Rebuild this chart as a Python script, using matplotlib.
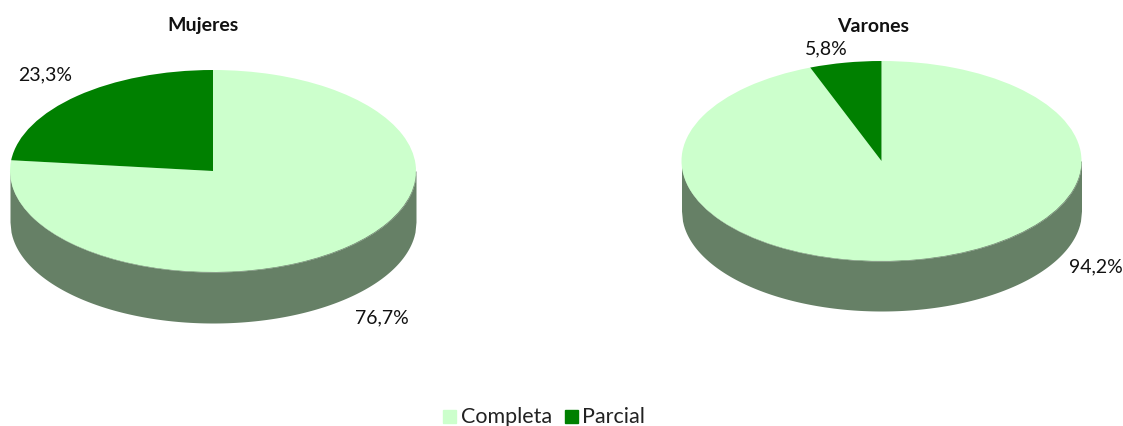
import numpy as np
import matplotlib.pyplot as plt
from matplotlib.patches import Rectangle

W, H = 1123, 426

titles = ["Mujeres", "Varones"]
categories = ["Completa", "Parcial"]
mujeres = [76.7, 23.3]
varones = [94.2, 5.8]
mujeres_labels = ["76,7%", "23,3%"]
varones_labels = ["94,2%", "5,8%"]

top_colors = ["#CCFFCC", "#008000"]
wall_color = "#668066"

plt.rcParams['font.family'] = ['Lato', 'DejaVu Sans']

fig = plt.figure(figsize=(W / 100, H / 100), dpi=100, facecolor="white")


def draw_pie(values, cx, cy, rx, ry, depth):
    # axes covers the ellipse plus the wall, in pixels
    ax = fig.add_axes([(cx - rx) / W, 1 - (cy + ry + depth) / H, 2 * rx / W, (2 * ry + depth) / H])
    low = -1 - depth / ry
    # wall first, then the top face
    x = np.linspace(-1, 1, 400)
    y = np.sqrt(1 - x ** 2)
    ax.fill_between(x, -y, -y + low + 1, color=wall_color, lw=0)
    ax.fill_between(x, 0, -y, color=wall_color, lw=0)
    ax.pie(values, colors=top_colors, startangle=90, counterclock=False, radius=1)
    ax.set_aspect('auto')
    ax.set_xlim(-1, 1)
    ax.set_ylim(low, 1)
    ax.axis('off')


def px_text(x, y, s, **kw):
    fig.text(x / W, 1 - y / H, s, ha='center', va='center', color='#111111', **kw)


draw_pie(mujeres, 213, 171, 203, 101, 51)
draw_pie(varones, 881.5, 161, 200, 100, 50)

px_text(203, 26, titles[0], fontsize=14, fontweight='bold')
px_text(873, 26, titles[1], fontsize=14, fontweight='bold')

px_text(382, 318, mujeres_labels[0], fontsize=14)
px_text(45, 75, mujeres_labels[1], fontsize=14)
px_text(1096, 267, varones_labels[0], fontsize=14)
px_text(826, 49, varones_labels[1], fontsize=14)

# legend
fig.add_artist(Rectangle((443 / W, 1 - 423 / H), 13 / W, 13 / H, color=top_colors[0], transform=fig.transFigure))
fig.add_artist(Rectangle((565 / W, 1 - 423 / H), 13 / W, 13 / H, color=top_colors[1], transform=fig.transFigure))
fig.text(461 / W, 1 - 417 / H, categories[0], ha='left', va='center', fontsize=15.5, color='#222222')
fig.text(582 / W, 1 - 417 / H, categories[1], ha='left', va='center', fontsize=15.5, color='#222222')

fig.savefig("out.png", dpi=100)
